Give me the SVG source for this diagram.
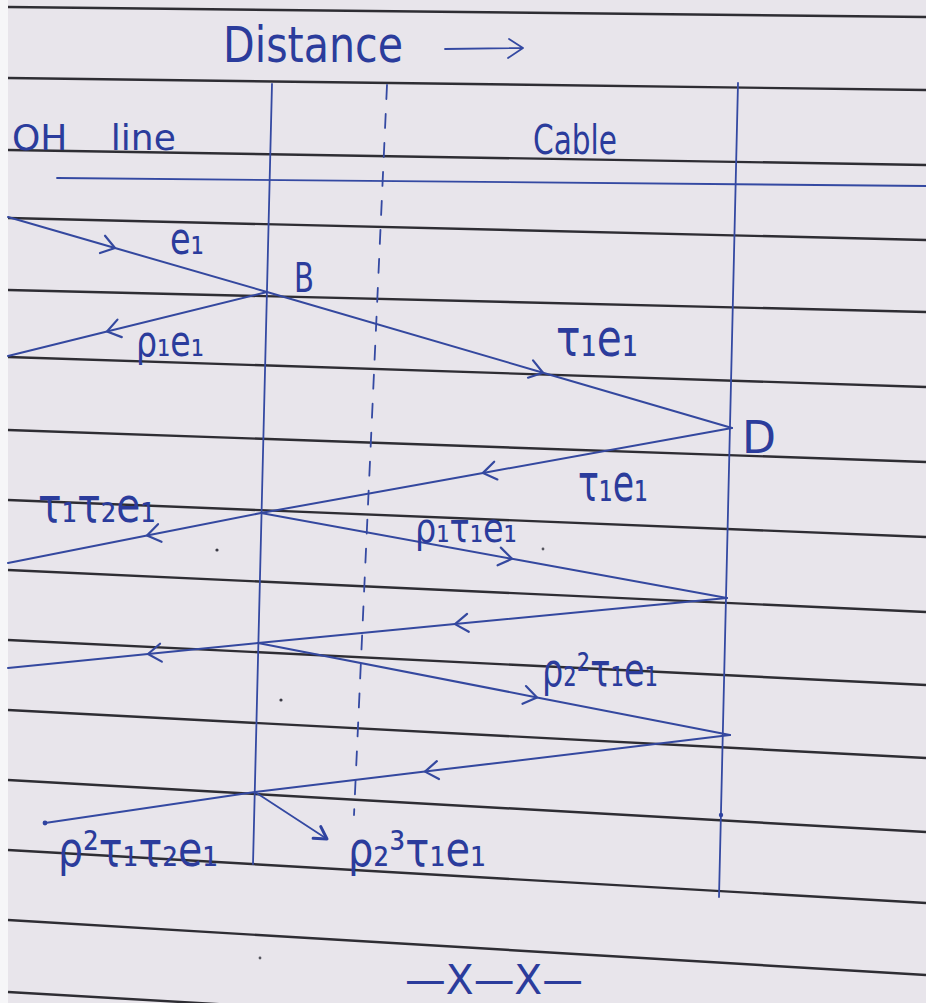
<svg xmlns="http://www.w3.org/2000/svg" width="926" height="1003" viewBox="0 0 926 1003">
<defs>
<style>
.rule{stroke:#2e2d33;stroke-width:2.4;fill:none}
.ink{stroke:#3449a2;stroke-width:1.8;fill:none;stroke-linecap:round}
.sig{stroke:#34489f;stroke-width:2;fill:none;stroke-linecap:round;marker-mid:url(#chev)}
.lbl{fill:#2b3c9c;font-family:"DejaVu Sans","Liberation Sans",sans-serif}
</style>
<marker id="chev" viewBox="-20 -14 26 28" markerWidth="26" markerHeight="28" refX="0" refY="0" orient="auto" markerUnits="userSpaceOnUse" overflow="visible">
<path d="M-13,-9 L0,0 L-13,9" fill="none" stroke="#34489f" stroke-width="2.2" stroke-linecap="round" stroke-linejoin="round"/>
</marker>
<marker id="head" viewBox="-20 -14 26 28" markerWidth="26" markerHeight="28" refX="0" refY="0" orient="auto" markerUnits="userSpaceOnUse" overflow="visible">
<path d="M-12,-7 L0,0 L-12,7" fill="none" stroke="#2f43a0" stroke-width="3" stroke-linecap="round" stroke-linejoin="round"/>
</marker>
</defs>

<g id="paper">
<rect x="0" y="0" width="926" height="1003" fill="#e8e5eb"/>
<rect x="0" y="0" width="8" height="1003" fill="#f6f6f8"/>
<path class="rule" d="M8,7 L926,17"/>
<path class="rule" d="M8,78 L926,90"/>
<path class="rule" d="M8,150 L926,165"/>
<path class="rule" d="M8,218 L926,240"/>
<path class="rule" d="M8,290 L926,312"/>
<path class="rule" d="M8,357 L926,387"/>
<path class="rule" d="M8,430 L926,462"/>
<path class="rule" d="M8,500 L926,537"/>
<path class="rule" d="M8,570 L926,612"/>
<path class="rule" d="M8,640 L926,685"/>
<path class="rule" d="M8,710 L926,758"/>
<path class="rule" d="M8,780 L926,832"/>
<path class="rule" d="M8,850 L926,903"/>
<path class="rule" d="M8,920 Q500,948 926,975"/>
<path class="rule" d="M8,992 L926,1045"/>
<circle cx="281" cy="700" r="1.6" fill="#3a3a44"/>
<circle cx="217" cy="550" r="1.6" fill="#3a3a44"/>
<circle cx="543" cy="549" r="1.4" fill="#55555e"/>
<circle cx="260" cy="958" r="1.4" fill="#55555e"/>
</g>

<g id="boundaries">
<path class="ink" d="M57,178 L926,186"/>
<path class="ink" d="M272,84 L253,864"/>
<path class="ink" d="M738,83 L719,897"/>
<path class="ink" d="M387,85 L354,815" stroke-dasharray="14 15"/>
<circle cx="721" cy="815" r="2.2" fill="#2f43a0"/>
</g>

<g id="connectors">
<path class="sig" d="M8,217 L115,248 L267,292"/>
<path class="sig" d="M267,292 L107,331.5 L8,356"/>
<path class="sig" d="M267,292 L543,372.7 L732,428"/>
<path class="sig" d="M732,428 L483,472.9 L261,513"/>
<path class="sig" d="M261,513 L147,535.5 L8,563"/>
<path class="sig" d="M261,513 L512,558.8 L727,598"/>
<path class="sig" d="M727,598 L455,624.1 L258,643"/>
<path class="sig" d="M258,643 L148,654 L8,668"/>
<path class="sig" d="M258,643 L537,697.4 L730,735"/>
<path class="sig" d="M730,735 L425,771.6 L255,792"/>
<path class="ink" d="M255,792 L45,823"/>
<circle cx="45" cy="823" r="2.4" fill="#2f43a0"/>
<path class="ink" d="M255,792 L327,839" stroke-width="2.4" marker-end="url(#head)"/>
</g>

<g id="title">
<text class="lbl" x="223" y="62" font-size="50" textLength="180" lengthAdjust="spacingAndGlyphs">Distance</text>
<path class="ink" d="M445,49 L523,48 M509,39 L523,48 L508,58" stroke-width="2.4" stroke-linejoin="round"/>
</g>
<g id="label-oh-line"><text class="lbl" x="12" y="150" font-size="36" word-spacing="32">OH line</text></g>
<g id="label-cable"><text class="lbl" x="533" y="154" font-size="40" textLength="84" lengthAdjust="spacingAndGlyphs">Cable</text></g>
<g id="node-B"><text class="lbl" x="294" y="292" font-size="40" textLength="20" lengthAdjust="spacingAndGlyphs">B</text></g>
<g id="node-D"><text class="lbl" x="742" y="453" font-size="44" textLength="34" lengthAdjust="spacingAndGlyphs">D</text></g>
<g id="label-e1"><text class="lbl" x="170" y="254" font-size="44" textLength="34" lengthAdjust="spacingAndGlyphs">e₁</text></g>
<g id="label-rho1e1"><text class="lbl" x="136" y="356" font-size="42" textLength="68" lengthAdjust="spacingAndGlyphs">ρ₁e₁</text></g>
<g id="label-tau1e1-a"><text class="lbl" x="556" y="356" font-size="52" textLength="82" lengthAdjust="spacingAndGlyphs">τ₁e₁</text></g>
<g id="label-tau1e1-b"><text class="lbl" x="578" y="501" font-size="52" textLength="70" lengthAdjust="spacingAndGlyphs">τ₁e₁</text></g>
<g id="label-tau1tau2e1"><text class="lbl" x="38" y="522" font-size="48" textLength="118" lengthAdjust="spacingAndGlyphs">τ₁τ₂e₁</text></g>
<g id="label-rho1tau1e1"><text class="lbl" x="415" y="542" font-size="40" textLength="102" lengthAdjust="spacingAndGlyphs">ρ₁τ₁e₁</text></g>
<g id="label-rho2sq"><text class="lbl" x="542" y="686" font-size="46" textLength="116" lengthAdjust="spacingAndGlyphs">ρ₂²τ₁e₁</text></g>
<g id="label-rhosq-tau"><text class="lbl" x="58" y="866" font-size="48" textLength="160" lengthAdjust="spacingAndGlyphs">ρ²τ₁τ₂e₁</text></g>
<g id="label-rho2cube"><text class="lbl" x="348" y="866" font-size="48" textLength="138" lengthAdjust="spacingAndGlyphs">ρ₂³τ₁e₁</text></g>
<g id="end-mark"><text class="lbl" x="405" y="994" font-size="40" textLength="178" lengthAdjust="spacingAndGlyphs">—X—X—</text></g>
</svg>
